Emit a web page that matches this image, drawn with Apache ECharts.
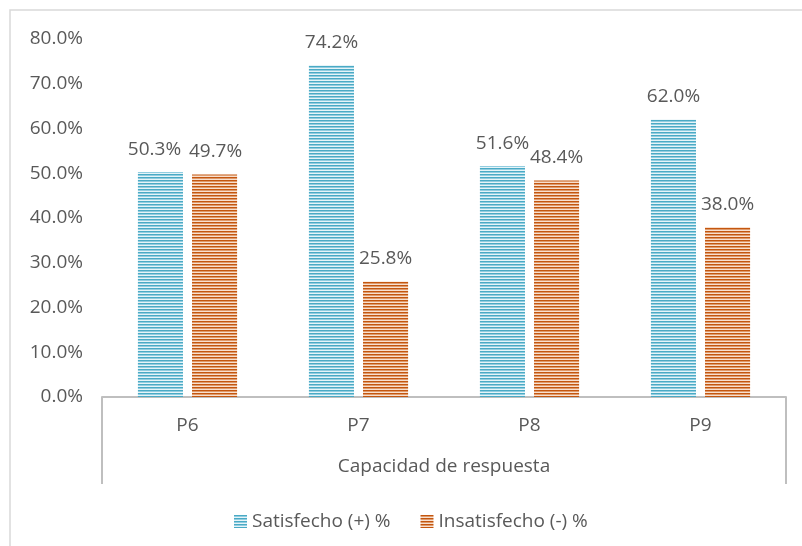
<!DOCTYPE html>
<html><head><meta charset="utf-8">
<script src="https://cdn.jsdelivr.net/npm/echarts@6/dist/echarts.min.js"></script>
<style>html,body{margin:0;padding:0;background:#fff}#c{width:802px;height:546px}</style>
</head><body><div id="c"></div>
<script>
var categories = ['P6', 'P7', 'P8', 'P9'];
var groupLabel = ['Capacidad de respuesta'];
var satisfecho = [50.3, 74.2, 51.6, 62.0];
var insatisfecho = [49.7, 25.8, 48.4, 38.0];
var seriesNames = ['Satisfecho (+) %', 'Insatisfecho (-) %'];

function stripes(rows) {
  var c = document.createElement('canvas');
  c.width = 4; c.height = rows.length;
  var g = c.getContext('2d');
  rows.forEach(function (col, i) { g.fillStyle = col; g.fillRect(0, i, 4, 1); });
  return { image: c, repeat: 'repeat' };
}
var bluePat = stripes(['#4aaac5', '#92cde0', '#e6f4f8']);
var orangePat = stripes(['#c4560f', '#de9a6c', '#f8e0cf']);

var font = 'Open Sans';
var fs = 19;
var txt = '#595959';
function pct(p) { return p.value.toFixed(1) + '%'; }
function withFirstOffset(vals, dx) {
  return vals.map(function (v, i) {
    return i === 0 ? { value: v, label: { offset: [dx, 0] } } : v;
  });
}
var chart = echarts.init(document.getElementById('c'), null, { renderer: 'canvas' });
chart.setOption({
  animation: false,
  textStyle: { fontFamily: font },
  graphic: [{ type: 'rect', shape: { x: 10, y: 10, width: 900, height: 900 }, style: { fill: 'none', stroke: '#d9d9d9', lineWidth: 1.5 }, silent: true }],
  grid: { left: 102, right: 16, top: 39, bottom: 149 },
  legend: {
    data: seriesNames, left: 229, top: 507, itemWidth: 13, itemHeight: 13, itemGap: 30,
    icon: 'rect', textStyle: { fontFamily: font, fontSize: fs, color: txt }
  },
  xAxis: [{
    type: 'category', data: categories, position: 'bottom',
    axisLine: { lineStyle: { color: '#bfbfbf', width: 2 } },
    axisTick: { show: false },
    axisLabel: { fontFamily: font, fontSize: fs, color: txt, margin: 19 }
  }, {
    type: 'category', data: groupLabel, position: 'bottom',
    axisLine: { show: false },
    axisTick: { show: true, length: 87, lineStyle: { color: '#bfbfbf', width: 2 } },
    axisLabel: { fontFamily: font, fontSize: fs, color: txt, margin: 60 }
  }],
  yAxis: {
    type: 'value', min: 0, max: 80, interval: 10,
    axisLine: { show: false }, axisTick: { show: false }, splitLine: { show: false },
    axisLabel: { fontFamily: font, fontSize: fs, color: txt, margin: 19,
      formatter: function (v) { return v.toFixed(1) + '%'; } }
  },
  series: [{
    name: seriesNames[0], type: 'bar', data: withFirstOffset(satisfecho, -6), barGap: '20%', barCategoryGap: '42%',
    itemStyle: { color: bluePat },
    label: { show: true, position: 'top', distance: 13, fontFamily: font, fontSize: fs, color: txt, formatter: pct }
  }, {
    name: seriesNames[1], type: 'bar', data: withFirstOffset(insatisfecho, 1),
    itemStyle: { color: orangePat },
    label: { show: true, position: 'top', distance: 13, fontFamily: font, fontSize: fs, color: txt, formatter: pct }
  }]
});
</script></body></html>
